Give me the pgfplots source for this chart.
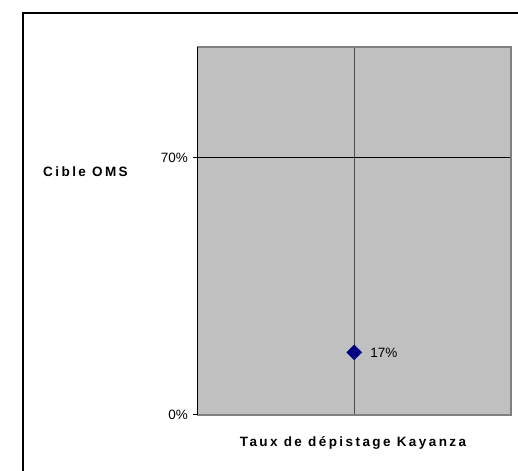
\documentclass[border=0pt]{standalone}
\usepackage{fontspec}
\setmainfont{Liberation Sans}
\newfontfamily\spaced[LetterSpace=18]{Liberation Sans}
\usepackage{pgfplots}
\pgfplotsset{compat=1.18}
\definecolor{plotgray}{HTML}{C0C0C0}
\definecolor{framegray}{HTML}{808080}
\definecolor{navy}{HTML}{000080}

\begin{document}
\begin{tikzpicture}[x=1pt,y=1pt,font=\fontsize{13.5}{16}\selectfont]
  \useasboundingbox (0,0) rectangle (518,470);
  \clip (0,0) rectangle (518,470);
  % outer chart frame, cut by the picture edge
  \draw[line width=1.2pt] (23,-20) -- (23,457) -- (540,457);

  \begin{axis}[
    at={(197.5pt,55pt)}, anchor=south west,
    scale only axis, width=313.5pt, height=368pt,
    xmin=0, xmax=2, ymin=0, ymax=1,
    xtick={1}, xticklabels={}, xmajorgrids,
    x grid style={color=black!70, line width=1pt},
    ytick={0,0.7}, yticklabels={0\%,70\%}, ymajorgrids,
    y grid style={color=black, line width=1pt},
    ytick pos=left, tick align=outside,
    major tick length=5pt,
    major x tick style={draw=none},
    tick style={black, line width=1pt},
    axis line style={framegray, line width=1.5pt},
    axis background/.style={fill=plotgray},
    tick label style={font=\fontsize{13.5}{16}\selectfont},
    yticklabel style={xshift=-1pt},
    clip=false,
  ]
    \draw[black, line width=1pt] (rel axis cs:0,0) -- (rel axis cs:0,1);
    \addplot[only marks, mark=square*, mark size=5.3pt,
      mark options={fill=navy, draw=navy, rotate=45},
      point meta=explicit symbolic, nodes near coords,
      nodes near coords style={anchor=west, xshift=12.5pt,
        font=\fontsize{13.5}{16}\selectfont}]
      coordinates {(1,0.17) [17\%]};
  \end{axis}

  \node[font={\spaced\bfseries\fontsize{13.5}{16}\selectfont}] at (85.5,298) {Cible OMS};
  \node[font={\spaced\bfseries\fontsize{13.5}{16}\selectfont}] at (353,27) {Taux de dépistage Kayanza};
\end{tikzpicture}
\end{document}
